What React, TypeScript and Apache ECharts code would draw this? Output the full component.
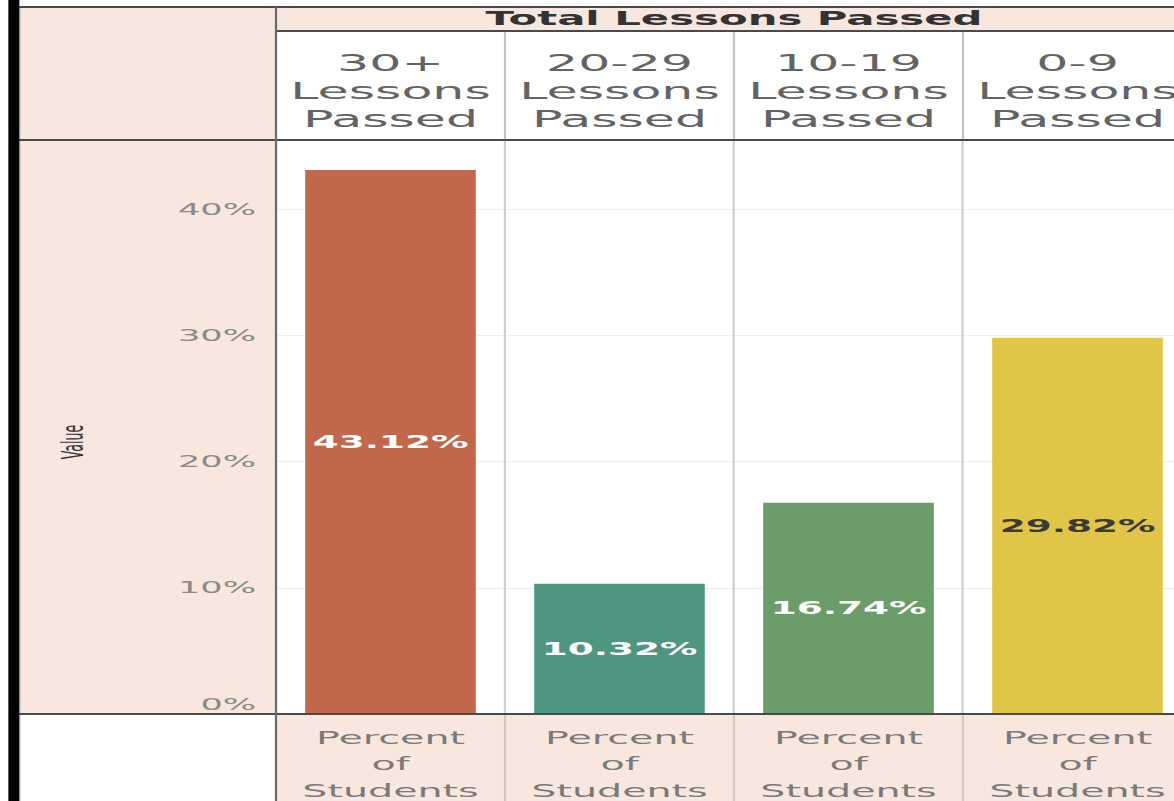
import React, { useEffect, useRef } from "react";
import * as echarts from "echarts";

// ---- data ----
const categories = ["30+ Lessons Passed", "20-29 Lessons Passed", "10-19 Lessons Passed", "0-9 Lessons Passed"];
const values = [43.12, 10.32, 16.74, 29.82];
const barColors = ["#C1684C", "#4E9681", "#6C9C69", "#E1C548"];
const labelColors = ["#ffffff", "#ffffff", "#ffffff", "#3a3a3a"];
const measureName = "Percent of Students";
const headerTitle = "Total Lessons Passed";
const axisTitle = "Value";
const yMin = 0;
const yMax = 45.5;
const yInterval = 10;

// ---- layout (unstretched coordinates; the whole picture is stretched horizontally) ----
const S = 2.2;
const GL = 276 / S;
const BAND = 229 / S;
const GW = BAND * categories.length;
const TOP = 140;
const BOTTOM = 714;
const PINK = "#F7E7DF";
const FONT = "DejaVu Sans";

export default function App() {
  const ref = useRef<HTMLDivElement>(null);
  useEffect(() => {
    if (!ref.current) return;
    const chart = echarts.init(ref.current, undefined, { renderer: "svg" });
    const lineDark = { stroke: "#4a4a4a", lineWidth: 2 };
    const graphics: any[] = [
      { type: "rect", z: -5, shape: { x: 8.6, y: 7, width: GL - 8.6, height: BOTTOM - 7 }, style: { fill: PINK } },
      { type: "rect", z: -5, shape: { x: GL, y: 7, width: GW + 20, height: 24 }, style: { fill: PINK } },
      { type: "rect", z: -5, shape: { x: GL, y: BOTTOM, width: GW + 20, height: 100 }, style: { fill: PINK } },
      { type: "rect", z: 50, shape: { x: 3.8, y: 0, width: 5, height: 801 }, style: { fill: "#000" } },
      { type: "line", z: 40, shape: { x1: 9.2, y1: 7, x2: 9.2, y2: 801 }, style: { stroke: "#c8c8c8", lineWidth: 0.5 } },
      { type: "line", z: 40, shape: { x1: 8.6, y1: 7, x2: GL + GW + 20, y2: 7 }, style: lineDark },
      { type: "line", z: 40, shape: { x1: GL, y1: 31, x2: GL + GW + 20, y2: 31 }, style: lineDark },
      { type: "line", z: 40, shape: { x1: 8.6, y1: TOP, x2: GL + GW + 20, y2: TOP }, style: lineDark },
      { type: "line", z: 40, shape: { x1: 8.6, y1: BOTTOM, x2: GL + GW + 20, y2: BOTTOM }, style: lineDark },
      { type: "line", z: 40, shape: { x1: GL, y1: 7, x2: GL, y2: 801 }, style: { stroke: "#6a6a6a", lineWidth: 1 } },
      {
        type: "text", z: 40, x: GL + GW / 2, y: 19,
        style: { text: headerTitle, align: "center", verticalAlign: "middle", fontSize: 19, fontWeight: "bold", fontFamily: FONT, fill: "#333" },
      },
      {
        type: "text", z: 40, x: 33, y: 442, rotation: Math.PI / 2,
        style: { text: axisTitle, align: "center", verticalAlign: "middle", fontSize: 14, fontFamily: "DejaVu Sans Condensed, DejaVu Sans", fill: "#333" },
      },
    ];
    for (let i = 1; i <= categories.length; i++) {
      const x = GL + i * BAND;
      graphics.push({ type: "line", z: 30, shape: { x1: x, y1: 31, x2: x, y2: TOP }, style: { stroke: "#c4c4c4", lineWidth: 1 } });
      graphics.push({ type: "line", z: 30, shape: { x1: x, y1: BOTTOM, x2: x, y2: 801 }, style: { stroke: "#d6c8c0", lineWidth: 1 } });
    }

    chart.setOption({
      animation: false,
      backgroundColor: "#ffffff",
      textStyle: { fontFamily: FONT },
      grid: { left: GL, top: TOP, width: GW, height: BOTTOM - TOP, containLabel: false, outerBoundsMode: "none" },
      xAxis: [
        {
          type: "category",
          data: categories,
          position: "top",
          axisLine: { show: false },
          axisTick: { show: false },
          axisLabel: {
            interval: 0,
            formatter: (v: string) => v.split(" ").join("\n"),
            fontSize: 23,
            lineHeight: 28,
            color: "#636363",
            margin: 7,
            fontFamily: FONT,
          },
          splitLine: { show: true, lineStyle: { color: "#cfcfcf", width: 1 } },
        },
        {
          type: "category",
          data: categories,
          position: "bottom",
          axisLine: { show: false },
          axisTick: { show: false },
          axisLabel: {
            interval: 0,
            formatter: () => measureName.split(" ").join("\n"),
            fontSize: 18,
            lineHeight: 26.5,
            color: "#7a7a7a",
            margin: 10,
            fontFamily: FONT,
          },
        },
      ],
      yAxis: {
        type: "value",
        min: yMin,
        max: yMax,
        interval: yInterval,
        axisLine: { show: false },
        axisTick: { show: false },
        axisLabel: {
          showMaxLabel: false,
          formatter: (v: number) => (v === 0 ? "{z|0%}" : v + "%"),
          fontSize: 16,
          color: "#8a8a8a",
          margin: 9,
          fontFamily: FONT,
          rich: { z: { padding: [0, 0, 20, 0], fontSize: 16, color: "#8a8a8a", fontFamily: FONT } },
        },
        splitLine: { show: true, lineStyle: { color: "#eeeeee", width: 1 } },
      },
      series: [
        {
          type: "bar",
          xAxisIndex: 0,
          barWidth: "74.5%",
          data: values.map((v, i) => ({ value: v, itemStyle: { color: barColors[i] }, label: { color: labelColors[i] } })),
          label: {
            show: true,
            position: "inside",
            formatter: (p: any) => p.value + "%",
            fontSize: 17,
            fontWeight: "bold",
            fontFamily: FONT,
          },
        },
      ],
      graphic: graphics,
    });
    return () => chart.dispose();
  }, []);

  return (
    <div style={{ position: "fixed", left: 0, top: 0, width: 1174, height: 801, overflow: "hidden", background: "#fff" }}>
      <div
        ref={ref}
        style={{ width: 548, height: 801, transform: `scaleX(${S})`, transformOrigin: "0 0" }}
      />
    </div>
  );
}
